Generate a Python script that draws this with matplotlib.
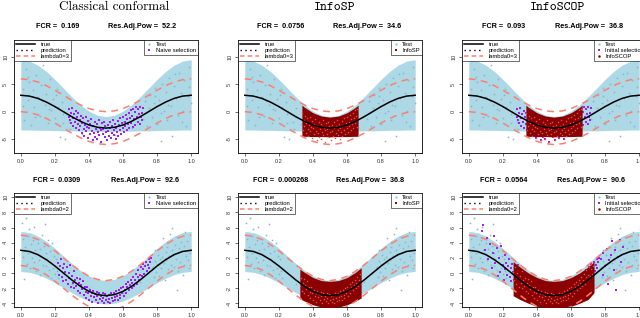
import matplotlib
matplotlib.use("Agg")
import matplotlib.pyplot as plt
from matplotlib.lines import Line2D
import numpy as np

plt.rcParams['font.family'] = ['Liberation Sans', 'DejaVu Sans']
plt.rcParams['axes.unicode_minus'] = False

# ---------------- data ----------------
grid_x = [0.0, 0.05, 0.1, 0.15, 0.2, 0.25, 0.3, 0.35, 0.4, 0.45, 0.5,
          0.55, 0.6, 0.65, 0.7, 0.75, 0.8, 0.85, 0.9, 0.95, 1.0]
true_y = [3.0, 2.85, 2.43, 1.76, 0.93, 0.0, -0.93, -1.76, -2.43, -2.85, -3.0,
          -2.85, -2.43, -1.76, -0.93, 0.0, 0.93, 1.76, 2.43, 2.85, 3.0]

# top row prediction band
top_upper = [9.5, 9.25, 8.5, 7.35, 5.9, 4.3, 2.7, 1.25, 0.1, -0.65, -0.9,
             -0.65, 0.1, 1.25, 2.7, 4.3, 5.9, 7.35, 8.5, 9.25, 9.5]
top_lower = [-3.35, -3.35, -3.4, -3.4, -3.45, -3.5, -3.5, -3.55, -3.55, -3.6, -3.6,
             -3.6, -3.55, -3.55, -3.5, -3.5, -3.45, -3.4, -3.4, -3.35, -3.35]
# bottom row prediction band
bot_upper = [5.5, 5.34, 4.88, 4.16, 3.26, 2.25, 1.24, 0.34, -0.38, -0.84, -1.0,
             -0.84, -0.38, 0.34, 1.24, 2.25, 3.26, 4.16, 4.88, 5.34, 5.5]
bot_lower = [0.2, 0.09, -0.21, -0.69, -1.28, -1.95, -2.62, -3.21, -3.69, -3.99, -4.1,
             -3.99, -3.69, -3.21, -2.62, -1.95, -1.28, -0.69, -0.21, 0.09, 0.2]

lambda_top = 3
lambda_bot = 2

# test points, top row
top_test_x = [0.01, 0.02, 0.03, 0.04, 0.05, 0.06, 0.07, 0.08, 0.09, 0.10,
              0.11, 0.12, 0.13, 0.14, 0.15, 0.16, 0.17, 0.18, 0.19, 0.20,
              0.21, 0.22, 0.23, 0.24, 0.25, 0.26, 0.27, 0.28, 0.29, 0.30,
              0.33, 0.36, 0.40, 0.45, 0.50, 0.55, 0.60, 0.65, 0.70,
              0.72, 0.73, 0.74, 0.75, 0.76, 0.77, 0.78, 0.79, 0.80, 0.81,
              0.82, 0.83, 0.84, 0.85, 0.86, 0.87, 0.88, 0.89, 0.90, 0.91,
              0.92, 0.93, 0.94, 0.95, 0.96, 0.97, 0.98, 0.99, 1.00,
              0.015, 0.045, 0.085, 0.125, 0.165, 0.205, 0.245, 0.785, 0.825, 0.865, 0.905, 0.945, 0.985]
top_test_y = [4.2, -1.5, 7.8, 2.1, 5.5, -2.4, 3.9, 0.8, 6.7, 2.6,
              -0.7, 4.8, 8.6, 1.2, 3.3, -2.1, 5.9, 0.3, 2.4, -1.2,
              4.1, 0.9, -4.6, 1.8, -0.4, -5.0, 2.6, -1.8, -3.1, 0.7,
              -2.2, -4.0, -1.5, -3.4, -2.6, -4.2, -1.9, -3.0, -0.8,
              -1.4, 1.9, -2.6, 0.6, 3.1, -0.9, 1.5, 4.4, -2.3, 2.2,
              -5.4, 5.1, 0.2, 3.6, -1.6, 6.2, 1.0, -4.4, 4.7, 2.5,
              -0.6, 7.1, 3.4, 0.1, 5.8, -2.7, 2.9, 8.2, 1.6,
              1.1, 6.3, -1.0, 2.0, 0.5, 3.0, -2.0, 2.8, -0.3, 1.3, 6.9, -1.9, 4.6]

# naive selection, top row
top_sel_x = [0.280, 0.284, 0.289, 0.293, 0.297, 0.301, 0.305, 0.309, 0.313, 0.317,
             0.321, 0.325, 0.329, 0.333, 0.337, 0.341, 0.345, 0.349, 0.353, 0.357,
             0.361, 0.365, 0.369, 0.373, 0.377, 0.381, 0.385, 0.389, 0.393, 0.397,
             0.401, 0.405, 0.409, 0.413, 0.417, 0.421, 0.425, 0.429, 0.433, 0.437,
             0.441, 0.445, 0.449, 0.453, 0.457, 0.461, 0.465, 0.469, 0.473, 0.477,
             0.481, 0.485, 0.489, 0.493, 0.497, 0.501, 0.505, 0.509, 0.513, 0.517,
             0.521, 0.525, 0.529, 0.533, 0.537, 0.541, 0.545, 0.549, 0.553, 0.557,
             0.561, 0.565, 0.569, 0.573, 0.577, 0.581, 0.585, 0.589, 0.593, 0.597,
             0.601, 0.605, 0.609, 0.613, 0.617, 0.621, 0.625, 0.629, 0.633, 0.637,
             0.641, 0.645, 0.649, 0.653, 0.657, 0.661, 0.665, 0.669, 0.673, 0.677,
             0.681, 0.685, 0.689, 0.693, 0.697, 0.701, 0.705, 0.709, 0.713, 0.717]
top_sel_y = [-0.9, 0.4, -1.6, -0.2, -2.1, 0.6, -1.2, -2.6, -0.5, -1.8,
             0.2, -3.0, -1.0, -2.2, -0.3, -3.4, -1.5, -2.7, -0.8, -3.9,
             -2.0, -1.2, -3.2, -4.4, -2.4, -1.0, -3.6, -2.8, -4.9, -1.7,
             -3.0, -2.2, -4.1, -1.4, -3.5, -5.2, -2.6, -3.9, -1.9, -4.6,
             -3.1, -2.3, -5.0, -3.7, -1.6, -4.3, -2.9, -3.4, -5.5, -2.1,
             -4.0, -3.2, -1.8, -4.7, -2.7, -3.8, -5.1, -2.4, -3.5, -4.4,
             -1.9, -3.0, -4.8, -2.6, -3.9, -1.5, -4.2, -3.3, -2.2, -5.0,
             -2.9, -3.7, -1.7, -4.5, -2.5, -3.3, -1.2, -4.0, -2.1, -3.0,
             -0.9, -3.7, -1.8, -2.6, -0.6, -3.4, -1.4, -2.3, -0.2, -3.0,
             -1.1, 0.3, -2.0, -0.7, -2.8, 0.5, -1.3, -0.1, -2.4, 0.8,
             -0.9, -1.9, 0.4, -0.5, -2.2, 0.9, -1.0, -0.2, -1.6, 0.6]

# test points, bottom row
bot_test_x = [0.005, 0.010, 0.015, 0.020, 0.025, 0.030, 0.035, 0.040, 0.045, 0.050,
              0.055, 0.060, 0.065, 0.070, 0.075, 0.080, 0.085, 0.090, 0.095, 0.100,
              0.105, 0.110, 0.115, 0.120, 0.125, 0.130, 0.135, 0.140, 0.145, 0.150,
              0.155, 0.160, 0.165, 0.170, 0.175, 0.180, 0.185, 0.190, 0.195, 0.200,
              0.205, 0.210, 0.215, 0.220,
              0.30, 0.40, 0.50, 0.60, 0.70,
              0.775, 0.780, 0.785, 0.790, 0.795, 0.800, 0.805, 0.810, 0.815, 0.820,
              0.825, 0.830, 0.835, 0.840, 0.845, 0.850, 0.855, 0.860, 0.865, 0.870,
              0.875, 0.880, 0.885, 0.890, 0.895, 0.900, 0.905, 0.910, 0.915, 0.920,
              0.925, 0.930, 0.935, 0.940, 0.945, 0.950, 0.955, 0.960, 0.965, 0.970,
              0.975, 0.980, 0.985, 0.990, 0.995, 0.917]
bot_test_y = [6.6, 2.1, 4.5, -0.8, 3.4, 7.3, 1.2, 4.9, 2.7, 5.8,
              0.6, 3.8, 2.0, 4.4, 1.4, 6.1, 3.0, 0.2, 2.5, 4.0,
              1.7, 3.2, -0.3, 2.3, 5.0, 1.0, 3.6, 6.5, 0.9, 2.6,
              1.8, 4.3, 0.4, 2.9, -0.6, 1.5, 3.9, 0.7, 2.2, -0.1,
              1.9, 0.3, 2.8, -0.7,
              -1.5, -2.0, -3.3, -2.7, -1.2,
              0.8, -0.5, 1.6, 3.0, 0.1, 1.2, 2.4, -0.4, 1.9, 3.5,
              0.6, 2.1, 4.6, 1.3, -0.9, 2.8, 1.7, 3.4, 0.5, 2.2,
              5.2, 1.1, 3.0, 6.0, 2.4, 0.8, 3.7, 1.9, 4.7, 2.6,
              0.3, 3.3, 1.5, 4.1, 2.9, -0.2, 3.6, 1.0, 5.4, 2.3,
              4.2, 1.7, 3.1, 0.6, 2.7, -2.2]

# naive selection, bottom row
bot_sel_x = [0.220, 0.225, 0.230, 0.235, 0.240, 0.245, 0.250, 0.255, 0.260, 0.265,
             0.270, 0.275, 0.280, 0.285, 0.290, 0.295, 0.300, 0.305, 0.310, 0.315,
             0.320, 0.325, 0.330, 0.335, 0.340, 0.345, 0.350, 0.355, 0.360, 0.365,
             0.370, 0.375, 0.380, 0.385, 0.390, 0.395, 0.400, 0.405, 0.410, 0.415,
             0.420, 0.425, 0.430, 0.435, 0.440, 0.445, 0.450, 0.455, 0.460, 0.465,
             0.470, 0.475, 0.480, 0.485, 0.490, 0.495, 0.500, 0.505, 0.510, 0.515,
             0.520, 0.525, 0.530, 0.535, 0.540, 0.545, 0.550, 0.555, 0.560, 0.565,
             0.570, 0.575, 0.580, 0.585, 0.590, 0.595, 0.600, 0.605, 0.610, 0.615,
             0.620, 0.625, 0.630, 0.635, 0.640, 0.645, 0.650, 0.655, 0.660, 0.665,
             0.670, 0.675, 0.680, 0.685, 0.690, 0.695, 0.700, 0.705, 0.710, 0.715,
             0.720, 0.725, 0.730, 0.735, 0.740, 0.745, 0.750, 0.755, 0.760, 0.765]
bot_sel_y = [1.3, -0.2, 0.9, 1.8, -0.5, 0.6, -1.1, 1.2, 0.1, -0.9,
             0.8, -1.5, 0.0, -0.7, 1.0, -1.9, -0.4, -1.3, 0.3, -2.0,
             -0.9, -1.7, -0.6, -2.4, -1.3, -0.8, -2.6, -1.6, -2.1, -1.0,
             -2.9, -1.8, -2.5, -3.3, -1.9, -2.7, -3.5, -2.2, -3.0, -2.6,
             -3.8, -2.4, -3.2, -2.8, -3.6, -2.5, -3.1, -3.9, -2.7, -3.4,
             -3.0, -3.7, -2.6, -3.3, -3.9, -2.8, -3.5, -3.1, -3.8, -2.9,
             -3.4, -3.9, -2.7, -3.3, -3.7, -2.6, -3.2, -3.6, -2.4, -3.0,
             -3.5, -2.2, -2.9, -3.3, -2.0, -2.7, -1.8, -3.0, -2.3, -1.5,
             -2.6, -1.9, -1.2, -2.3, -1.6, -0.9, -2.0, -1.3, -0.5, -1.7,
             -0.9, -0.1, -1.4, -0.5, 0.4, -0.9, -0.2, 0.8, -0.4, 0.5,
             1.2, -0.1, 0.9, 1.5, 0.2, 1.1, 1.8, 0.6, 1.4, 2.0]

# InfoSCOP initial selection, bottom row (outer part)
bot_init_x = [0.075, 0.085, 0.095, 0.105, 0.115, 0.125, 0.135, 0.140, 0.150, 0.155,
              0.165, 0.170, 0.180, 0.185, 0.190, 0.200, 0.205, 0.210, 0.215,
              0.775, 0.785, 0.790, 0.800, 0.810, 0.815, 0.825, 0.835, 0.840, 0.850,
              0.860, 0.865, 0.875, 0.885, 0.895, 0.905]
bot_init_y = [5.6, 6.3, 3.1, 4.6, 1.9, 3.8, 0.6, 2.7, 4.9, 1.3,
              3.3, -0.4, 2.0, 0.1, 3.6, 1.1, -0.9, 2.4, 0.5,
              1.9, -0.2, 2.6, 0.9, 3.2, -1.4, 1.7, 2.4, 4.2, 0.4,
              3.0, -2.3, 2.1, 4.4, 1.5, 3.4]

# selected regions (interval clouds)
top_sp_x = [0.335, 0.35, 0.4, 0.45, 0.5, 0.55, 0.6, 0.65, 0.665]
top_sp_up = [1.2, 0.8, -0.2, -0.8, -1.0, -0.8, -0.2, 0.8, 1.2]
top_sp_lo = [-4.5, -4.5, -4.55, -4.55, -4.6, -4.55, -4.55, -4.5, -4.5]

bot_sp_x = [0.323, 0.35, 0.4, 0.45, 0.5, 0.55, 0.6, 0.65, 0.683]
bot_sp_up = [0.5, 0.1, -0.6, -1.0, -1.1, -1.0, -0.6, 0.1, 0.7]
bot_sp_lo = [-3.4, -3.7, -4.2, -4.5, -4.6, -4.5, -4.2, -3.7, -3.3]

bot_scop_x = [0.26, 0.3, 0.35, 0.4, 0.45, 0.5, 0.55, 0.6, 0.65, 0.7, 0.735]
bot_scop_up = [1.5, 0.8, 0.0, -0.6, -1.0, -1.1, -1.0, -0.6, 0.0, 0.8, 1.5]
bot_scop_lo = [-3.0, -3.5, -4.0, -4.4, -4.6, -4.7, -4.6, -4.4, -4.0, -3.5, -2.6]

titles = ["Classical conformal", "InfoSP", "InfoSCOP"]
title_fonts = ["cmr10", "cmtt10", "cmtt10"]
top_fcr = ["0.169", "0.0756", "0.093"]
top_pow = ["52.2", "34.6", "36.8"]
bot_fcr = ["0.0309", "0.000268", "0.0564"]
bot_pow = ["92.6", "36.8", "90.6"]

# ---------------- style ----------------
BAND = "#add8e6"
TESTC = "#8ab4c6"
PURP = "#a020f0"
DRED = "#8b0000"
REDPT = "#d9534f"
SALMON = "#fa8072"

W, H = 640, 318
fig = plt.figure(figsize=(6.4, 3.18), dpi=100)

lefts = [14, 238, 462]
aw = 184
rows = [(40, 113), (193, 114)]


def add_ax(left, top, w, h):
    return fig.add_axes([left / W, 1 - (top + h) / H, w / W, h / H])


def style(ax, ylim, yticks):
    ax.set_xlim(-0.04, 1.04)
    ax.set_ylim(*ylim)
    ax.set_xticks([0.0, 0.2, 0.4, 0.6, 0.8, 1.0])
    ax.set_xticklabels(["0.0", "0.2", "0.4", "0.6", "0.8", "1.0"])
    ax.set_yticks(yticks)
    ax.set_yticklabels([str(v) for v in yticks], rotation=90, va="center")
    ax.tick_params(labelsize=4, length=2.2, width=0.5, pad=2, colors="#333333")
    for s in ax.spines.values():
        s.set_linewidth(0.6)


def lines(ax, lam):
    ax.plot(grid_x, true_y, color="black", lw=1.1, zorder=6)
    ax.plot(grid_x, [t + lam for t in true_y], color=SALMON, lw=1.1,
            dashes=(4.5, 3.5), zorder=7)
    ax.plot(grid_x, [t - lam for t in true_y], color=SALMON, lw=1.1,
            dashes=(4.5, 3.5), zorder=7)


def legends(ax, lam, kind):
    h1 = [Line2D([], [], color="black", lw=1.1),
          Line2D([], [], color="black", lw=1.0, ls=(0, (1, 2.5))),
          Line2D([], [], color=SALMON, lw=1.1, dashes=(3, 2))]
    l1 = ax.legend(h1, ["true", "prediction", "lambda0=%d" % lam], loc="upper left",
                   fontsize=4.2, frameon=True, fancybox=False, borderaxespad=0,
                   handlelength=3.2, labelspacing=0.15, borderpad=0.35,
                   handletextpad=1.0, edgecolor="black")
    l1.get_frame().set_linewidth(0.5)
    ax.add_artist(l1)
    h2 = [Line2D([], [], ls="none", marker="o", ms=1.6, color="#8fc3d9", mew=0)]
    lab2 = ["Test"]
    if kind == 0:
        h2.append(Line2D([], [], ls="none", marker="s", ms=1.8, color=PURP, mew=0))
        lab2.append("Naive selection")
    elif kind == 1:
        h2.append(Line2D([], [], ls="none", marker="s", ms=1.8, color=DRED, mew=0))
        lab2.append("InfoSP")
    else:
        h2.append(Line2D([], [], ls="none", marker="s", ms=1.8, color=PURP, mew=0))
        lab2.append("Initial selection")
        h2.append(Line2D([], [], ls="none", marker="o", ms=1.8, color=DRED, mew=0))
        lab2.append("InfoSCOP")
    l2 = ax.legend(h2, lab2, loc="upper right", fontsize=4.2, frameon=True,
                   fancybox=False, borderaxespad=0, handlelength=1.0,
                   labelspacing=0.15, borderpad=0.35, handletextpad=0.6,
                   edgecolor="black")
    l2.get_frame().set_linewidth(0.5)


def in_range(xs, ys, lo, hi, inside=True):
    px, py = [], []
    for a, b in zip(xs, ys):
        if (lo <= a <= hi) == inside:
            px.append(a)
            py.append(b)
    return px, py


title_cx = [114, 335, 558]
fcr_left_top = [36, 257, 482]
pow_left_top = [108, 333, 555]
fcr_left_bot = [33, 253, 480]
pow_left_bot = [111, 336, 557]
SUBFS = 5.2

for j in range(3):
    # ---- top row ----
    ax = add_ax(lefts[j], rows[0][0], aw, rows[0][1])
    style(ax, (-7.55, 13.1), [-5, 0, 5, 10])
    ax.fill_between(grid_x, top_lower, top_upper, color=BAND, lw=0, zorder=1)
    ax.plot(top_test_x, top_test_y, ls="none", marker="s", ms=1.1, mew=0,
            color=TESTC, zorder=2)
    if j == 0:
        ax.plot(top_sel_x, top_sel_y, ls="none", marker="s", ms=1.5, mew=0,
                color=PURP, zorder=3)
    else:
        if j == 2:
            ax.plot(top_sel_x, top_sel_y, ls="none", marker="s", ms=1.5, mew=0,
                    color=PURP, zorder=3)
        ax.fill_between(top_sp_x, top_sp_lo, top_sp_up, color=DRED, lw=0, zorder=4)
        rx, ry = in_range(top_sel_x, top_sel_y, 0.335, 0.665)
        ax.plot(rx, ry, ls="none", marker="s", ms=1.0, mew=0, color=REDPT,
                zorder=5)
    lines(ax, lambda_top)
    legends(ax, lambda_top, j)
    fig.text(title_cx[j] / W, 1 - 7 / H, titles[j], ha="center", va="center",
             fontsize=9.5, family=title_fonts[j])
    fig.text(fcr_left_top[j] / W, 1 - 26 / H, "FCR =  " + top_fcr[j],
             ha="left", va="center", fontsize=SUBFS, fontweight="bold")
    fig.text(pow_left_top[j] / W, 1 - 26 / H, "Res.Adj.Pow =  " + top_pow[j],
             ha="left", va="center", fontsize=SUBFS, fontweight="bold")

    # ---- bottom row ----
    ax = add_ax(lefts[j], rows[1][0], aw, rows[1][1])
    style(ax, (-4.49, 10.57), [-4, -2, 0, 2, 4, 6, 8, 10])
    ax.fill_between(grid_x, bot_lower, bot_upper, color=BAND, lw=0, zorder=1)
    ax.plot(bot_test_x, bot_test_y, ls="none", marker="s", ms=1.1, mew=0,
            color=TESTC, zorder=2)
    if j == 0:
        ax.plot(bot_sel_x, bot_sel_y, ls="none", marker="s", ms=1.5, mew=0,
                color=PURP, zorder=3)
    elif j == 1:
        ax.fill_between(bot_sp_x, bot_sp_lo, bot_sp_up, color=DRED, lw=0, zorder=4)
        rx, ry = in_range(bot_sel_x, bot_sel_y, 0.323, 0.683)
        ax.plot(rx, ry, ls="none", marker="s", ms=1.0, mew=0, color=REDPT,
                zorder=5)
    else:
        ax.plot(bot_sel_x, bot_sel_y, ls="none", marker="s", ms=1.5, mew=0,
                color=PURP, zorder=3)
        ax.plot(bot_init_x, bot_init_y, ls="none", marker="s", ms=1.5, mew=0,
                color=PURP, zorder=3)
        ax.fill_between(bot_scop_x, bot_scop_lo, bot_scop_up, color=DRED, lw=0,
                        zorder=4)
        rx, ry = in_range(bot_sel_x, bot_sel_y, 0.26, 0.735)
        ax.plot(rx, ry, ls="none", marker="s", ms=1.0, mew=0, color=REDPT,
                zorder=5)
    lines(ax, lambda_bot)
    legends(ax, lambda_bot, j)
    fig.text(fcr_left_bot[j] / W, 1 - 181 / H, "FCR =  " + bot_fcr[j],
             ha="left", va="center", fontsize=SUBFS, fontweight="bold")
    fig.text(pow_left_bot[j] / W, 1 - 181 / H, "Res.Adj.Pow =  " + bot_pow[j],
             ha="left", va="center", fontsize=SUBFS, fontweight="bold")

fig.savefig("out.png", dpi=100)
